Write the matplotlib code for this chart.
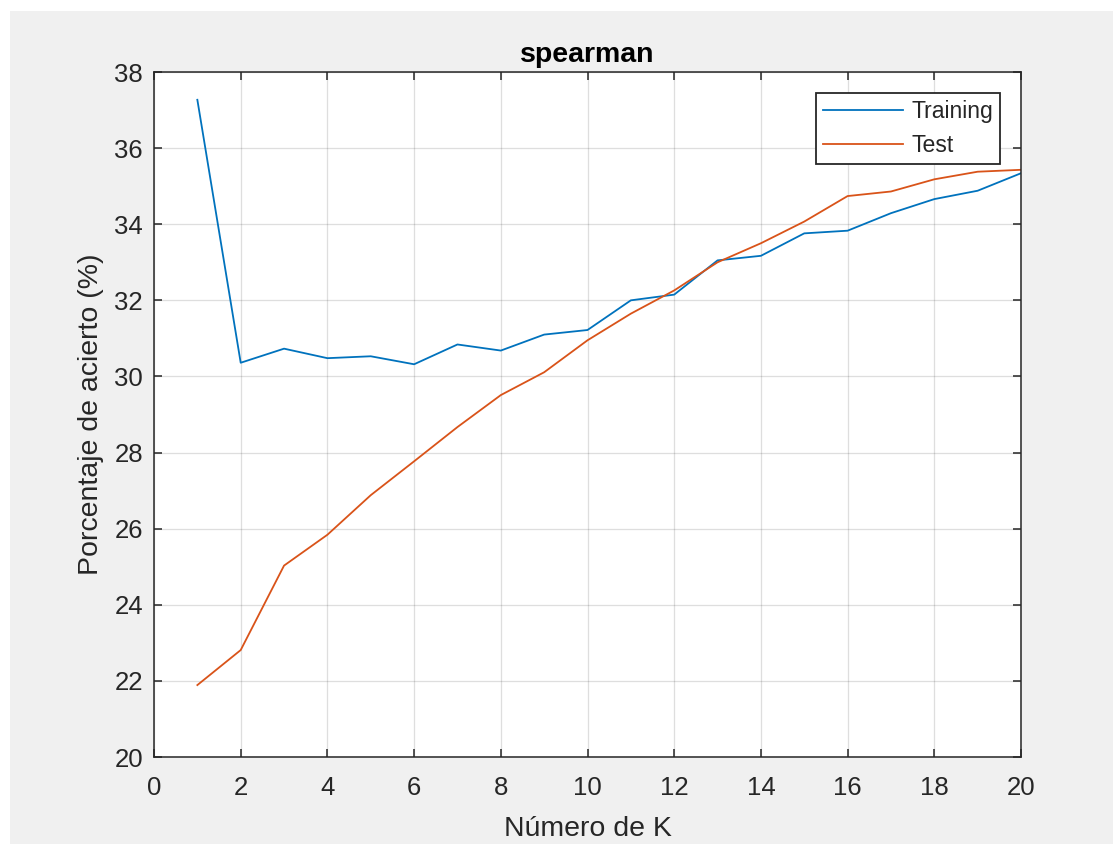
import matplotlib
matplotlib.use("Agg")
import matplotlib.pyplot as plt
from matplotlib.patches import Rectangle

plt.rcParams['font.family'] = ['Liberation Sans', 'DejaVu Sans']

k_values = list(range(1, 21))
training = [37.27, 30.36, 30.73, 30.48, 30.53, 30.32, 30.84, 30.68, 31.10, 31.22,
            32.00, 32.15, 33.05, 33.17, 33.76, 33.83, 34.29, 34.66, 34.88, 35.34]
test = [21.89, 22.81, 25.03, 25.84, 26.88, 27.77, 28.67, 29.51, 30.11, 30.95,
        31.65, 32.26, 33.00, 33.50, 34.07, 34.74, 34.86, 35.18, 35.38, 35.43]
x_ticks = list(range(0, 21, 2))
y_ticks = list(range(20, 39, 2))

W, H = 1113, 844
fig = plt.figure(figsize=(W / 100, H / 100), dpi=100, facecolor='#f0f0f0')
# white screenshot border at top and left
fig.patches.append(Rectangle((0, 1 - 11 / H), 1, 11 / H, transform=fig.transFigure,
                             facecolor='white', edgecolor='none', zorder=-1))
fig.patches.append(Rectangle((0, 0), 10 / W, 1, transform=fig.transFigure,
                             facecolor='white', edgecolor='none', zorder=-1))

left, right, top, bottom = 154, 1021, 72, 757
ax = fig.add_axes([left / W, 1 - bottom / H, (right - left) / W, (bottom - top) / H])
ax.set_facecolor('white')

ax.plot(k_values, training, color='#0072BD', lw=1.3, label='Training')
ax.plot(k_values, test, color='#D95319', lw=1.3, label='Test')

ax.set_xlim(0, 20)
ax.set_ylim(20, 38)
ax.set_xticks(x_ticks)
ax.set_yticks(y_ticks)
ax.grid(True, color='#262626', alpha=0.15, lw=0.9)
ax.set_axisbelow(True)
ax.tick_params(direction='in', top=True, right=True, length=6, width=1.1,
               labelsize=18.5, colors='#262626')
ax.tick_params(axis='y', pad=8)
ax.tick_params(axis='x', pad=14)
for s in ax.spines.values():
    s.set_color('#262626')
    s.set_linewidth(1.1)

ax.set_title('spearman', fontsize=20.5, fontweight='bold', pad=7)
ax.set_xlabel('Número de K', fontsize=20.5, color='#262626', labelpad=11)
ax.set_ylabel('Porcentaje de acierto (%)', fontsize=20.5, color='#262626', labelpad=7)

leg = ax.legend(loc='upper right', bbox_to_anchor=(1000 / W, 1 - 93 / H),
                bbox_transform=fig.transFigure, fontsize=16.6, frameon=True,
                fancybox=False, framealpha=1, edgecolor='#262626',
                handlelength=3.5, borderpad=0.3, labelspacing=0.5,
                handletextpad=0.35, borderaxespad=0)
leg.get_frame().set_linewidth(1.3)
for t in leg.get_texts():
    t.set_color('#262626')

fig.savefig('out.png', dpi=100, facecolor=fig.get_facecolor())
